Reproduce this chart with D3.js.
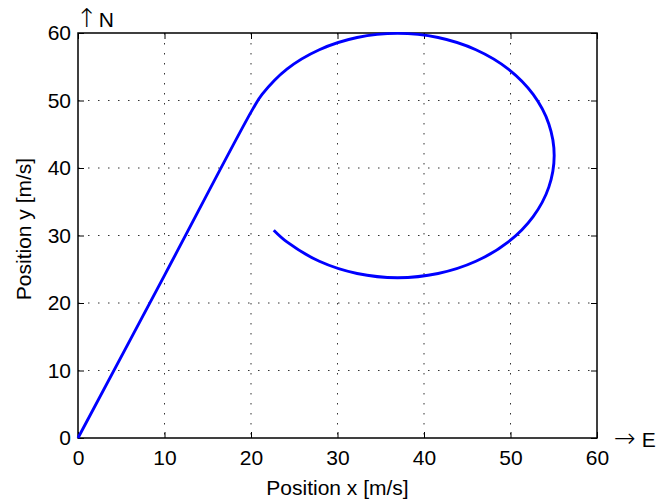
<!DOCTYPE html>
<html>
<head>
<meta charset="utf-8">
<script src="https://cdn.jsdelivr.net/npm/d3@7"></script>
<style>
  body { margin: 0; background: #fff; }
  text { font-family: Arial, "Liberation Sans", Helvetica, sans-serif; fill: #000; }
</style>
</head>
<body>
<svg id="chart" width="670" height="499"></svg>
<script>
// Data
const xTicks = [0, 10, 20, 30, 40, 50, 60];
const yTicks = [0, 10, 20, 30, 40, 50, 60];
const pathX = [0, 10.0, 20.20, 21.28, 24.15, 27.90, 32.27, 36.95, 41.63, 46.00, 49.75, 52.62, 54.43, 55.05, 54.43, 52.62, 49.75, 46.00, 41.63, 36.95, 32.27, 27.90, 24.15, 22.63];
const pathY = [0, 24.1, 48.72, 50.90, 54.65, 57.52, 59.33, 59.95, 59.33, 57.52, 54.65, 50.90, 46.53, 41.85, 37.17, 32.80, 29.05, 26.18, 24.37, 23.75, 24.37, 26.18, 29.05, 30.78];
const xLabel = "Position x [m/s]";
const yLabel = "Position y [m/s]";

const svg = d3.select("#chart");
const L = 78, R = 597, T = 33, B = 438;
const x = d3.scaleLinear().domain([0, 60]).range([L, R]);
const y = d3.scaleLinear().domain([0, 60]).range([B, T]);

// grid
const grid = svg.append("g");
grid.selectAll("line.gx").data(xTicks.slice(1, -1)).enter().append("line")
  .attr("x1", d => x(d)).attr("x2", d => x(d)).attr("y1", T).attr("y2", B)
  .attr("stroke", "#333").attr("stroke-width", 1).attr("stroke-dasharray", "1.5,8.5");
grid.selectAll("line.gy").data(yTicks.slice(1, -1)).enter().append("line")
  .attr("y1", d => y(d)).attr("y2", d => y(d)).attr("x1", L).attr("x2", R)
  .attr("stroke", "#333").attr("stroke-width", 1).attr("stroke-dasharray", "1.5,8.5");

// axes
const fs = 21;
const axB = d3.axisBottom(x).tickValues(xTicks).tickSize(-6).tickPadding(12).tickFormat(d3.format("d"));
const axT = d3.axisTop(x).tickValues(xTicks).tickSize(-6).tickFormat("");
const axL = d3.axisLeft(y).tickValues(yTicks).tickSize(-6).tickPadding(7).tickFormat(d3.format("d"));
const axR = d3.axisRight(y).tickValues(yTicks).tickSize(-6).tickFormat("");

function style(g) {
  g.select(".domain").remove();
  g.selectAll("line").attr("stroke", "#000").attr("stroke-width", 1);
  g.selectAll("text").attr("font-size", fs).attr("font-family", "Arial, 'Liberation Sans', sans-serif").attr("fill", "#000");
}
svg.append("g").attr("transform", `translate(0,${B})`).call(axB).call(style);
svg.append("g").attr("transform", `translate(0,${T})`).call(axT).call(style);
svg.append("g").attr("transform", `translate(${L},0)`).call(axL).call(style);
svg.append("g").attr("transform", `translate(${R},0)`).call(axR).call(style);

// box
svg.append("rect").attr("x", L).attr("y", T).attr("width", R - L).attr("height", B - T)
  .attr("fill", "none").attr("stroke", "#000").attr("stroke-width", 1.5);

// trajectory
const pts = pathX.map((v, i) => [v, pathY[i]]);
const line = d3.line().x(d => x(d[0])).y(d => y(d[1])).curve(d3.curveCatmullRom.alpha(0.5));
svg.append("path").datum(pts).attr("d", line)
  .attr("fill", "none").attr("stroke", "#0000ff").attr("stroke-width", 2.9)
  .attr("stroke-linejoin", "round");

// labels
svg.append("text").attr("x", (L + R) / 2).attr("y", 495).attr("text-anchor", "middle")
  .attr("font-size", fs).text(xLabel);
svg.append("text").attr("transform", "translate(31,229) rotate(-90)").attr("text-anchor", "middle")
  .attr("font-size", fs).text(yLabel);
const tN = svg.append("text").attr("x", 76).attr("y", 27).attr("font-size", fs);
tN.append("tspan").attr("font-family", "DejaVu Sans").attr("font-weight", 200).attr("font-size", 26).text("\u2191");
tN.append("tspan").attr("dx", 1).text("N");
const tE = svg.append("text").attr("x", 614).attr("y", 447).attr("font-size", fs);
tE.append("tspan").attr("font-family", "DejaVu Sans").attr("font-weight", 200).attr("font-size", 26).text("\u2192");
tE.append("tspan").attr("dx", 6).text("E");
</script>
</body>
</html>
